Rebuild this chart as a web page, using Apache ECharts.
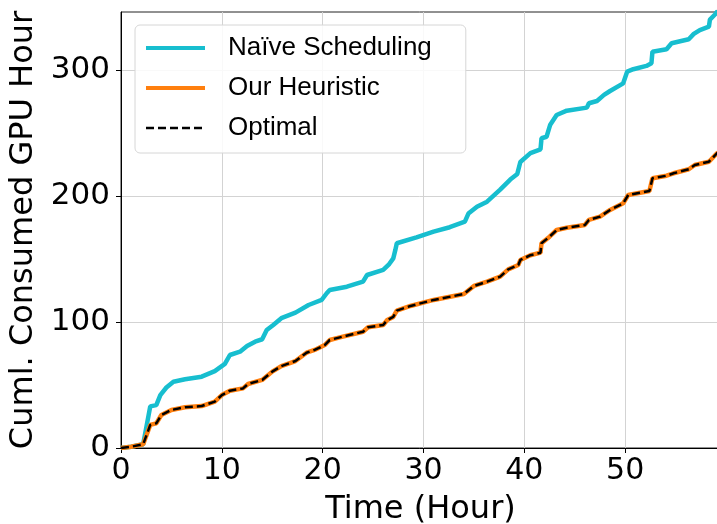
<!DOCTYPE html>
<html>
<head>
<meta charset="utf-8">
<script src="https://cdn.jsdelivr.net/npm/echarts@6/dist/echarts.min.js"></script>
<style>
  html, body { margin: 0; padding: 0; background: #fff; }
  #chart { width: 717px; height: 524px; }
</style>
</head>
<body>
<div id="chart"></div>
<script>
// 数据都是从图上读出来的（近似值）
var seriesNames = ['Naïve Scheduling', 'Our Heuristic', 'Optimal'];

var naiveHours = [0, 1, 2.2, 2.9, 3.5, 3.9, 4.5, 5.2, 6.35, 8.0, 9.3, 10.3, 10.8, 11.8, 12.5, 13.3, 14.0, 14.45,
  15.1, 15.9, 17.3, 18.6, 19.9, 20.4, 20.7, 22.4, 24.0, 24.4, 26.0, 26.6, 27.0, 27.2, 27.35, 29.3, 31.0, 32.6,
  34.1, 34.45, 35.3, 36.3, 37.6, 38.6, 39.3, 39.6, 40.6, 41.6, 41.7, 42.2, 42.55, 43.2, 44.2, 46.2, 46.4, 47.2,
  47.9, 48.5, 49.8, 50.2, 50.8, 52.1, 52.6, 52.7, 54.1, 54.6, 56.3, 56.8, 57.4, 58.3, 58.4, 58.9, 59.2];
var naiveGpu = [0, 1, 3, 33, 34, 42, 48, 52.6, 54.5, 56.6, 61, 66.7, 73.8, 76.4, 81, 84.4, 86.3, 93.6,
  97.6, 103, 107.4, 113.5, 117.5, 122.8, 125.4, 128, 132, 137.3, 141.3, 146, 150.5, 157, 162.5, 167.2, 171.7, 175.2,
  179.6, 186, 191.5, 195.5, 205, 213, 217.5, 227, 234, 237, 245.8, 247, 256.3, 264.3, 267.7, 270.1, 273.6, 275.4,
  280.2, 283.3, 289.4, 298.7, 300.6, 303.2, 305.3, 314.5, 316.4, 321.2, 324.4, 328.6, 331.7, 334.4, 340, 344, 347];

// Our Heuristic 和 Optimal 在图上完全重合
var optHours = [0, 1, 2.2, 2.9, 3.5, 4.0, 5.0, 6.35, 8.0, 9.3, 10.0, 10.8, 12.1, 12.6, 14.0, 15.0, 15.9, 17.3,
  18.4, 19.2, 20.2, 20.7, 21.7, 24.0, 24.5, 26.0, 26.4, 27.0, 27.35, 28.7, 31.0, 34.0, 35.0, 36.3, 37.6, 38.4,
  39.4, 39.6, 40.6, 41.6, 41.7, 42.5, 43.2, 44.2, 46.0, 46.4, 47.5, 48.5, 49.8, 50.3, 52.4, 52.7, 54.1, 54.8,
  56.3, 56.9, 58.3, 59.1, 59.4];
var optGpu = [0, 1, 3, 18.3, 19.6, 26.2, 30.2, 32.3, 33.3, 36.8, 42, 45.5, 47.3, 50.8, 54, 60.6, 65, 69,
  75.6, 77.8, 81.7, 85.7, 87.8, 92.3, 95.8, 97.6, 101.6, 104, 109, 112.7, 117.5, 122.2, 128.6, 132, 136, 141.8,
  145.2, 149.2, 153, 155, 162.5, 167.7, 173, 174.8, 177, 181, 183.6, 188.9, 194.2, 200.8, 204, 214, 216.1, 218,
  221.2, 224.6, 227.2, 233.9, 235];

var xTicks = [0, 10, 20, 30, 40, 50];
var yTicks = [0, 100, 200, 300];

function pairs(xs, ys) {
  return xs.map(function (x, i) { return [x, ys[i]]; });
}

var chart = echarts.init(document.getElementById('chart'));

var option = {
  animation: false,
  grid: {
    left: 121, top: 12, right: -3, bottom: 76,
    outerBoundsMode: 'none',
    show: true, borderColor: '#222', borderWidth: 1
  },
  legend: {
    orient: 'vertical',
    left: 135, top: 25,
    padding: [10, 34, 12, 9],
    itemWidth: 59, itemHeight: 14, itemGap: 14,
    backgroundColor: 'rgba(255,255,255,0.85)',
    borderColor: '#d6d6d6', borderWidth: 1, borderRadius: 5,
    itemStyle: { opacity: 0 },  // 只要线，不要圆点
    textStyle: {
      fontFamily: 'Liberation Sans', fontSize: 26, color: '#000',
      lineHeight: 26, padding: [0, 0, 0, 18]
    },
    data: [
      { name: seriesNames[0], lineStyle: { width: 4 } },
      { name: seriesNames[1], lineStyle: { width: 4 } },
      { name: seriesNames[2], lineStyle: { width: 2.5 } }
    ]
  },
  xAxis: {
    type: 'value',
    min: 0, max: 59.4, interval: 10,
    name: 'Time (Hour)', nameLocation: 'middle', nameGap: 46,
    nameTextStyle: { fontFamily: 'DejaVu Sans', fontSize: 32, color: '#000' },
    axisLine: { lineStyle: { color: '#000', width: 1 } },
    axisTick: { show: true, length: 5, lineStyle: { color: '#000' } },
    axisLabel: {
      fontFamily: 'DejaVu Sans', fontSize: 30, color: '#000', margin: 8,
      showMaxLabel: false,
      formatter: function (v) { return xTicks.indexOf(v) >= 0 ? String(v) : ''; }
    },
    splitLine: { show: true, showMinLine: false, showMaxLine: false, lineStyle: { color: '#d3d3d3', width: 1 } }
  },
  yAxis: {
    type: 'value',
    min: 0, max: 346, interval: 100,
    name: 'Cuml. Consumed GPU Hour', nameLocation: 'middle', nameGap: 79, nameRotate: 90,
    nameTextStyle: { fontFamily: 'DejaVu Sans', fontSize: 32, color: '#000' },
    axisLine: { show: true, lineStyle: { color: '#000', width: 1 } },
    axisTick: { show: true, length: 5, lineStyle: { color: '#000' } },
    axisLabel: {
      fontFamily: 'DejaVu Sans', fontSize: 31, color: '#000', margin: 11,
      showMaxLabel: false,
      formatter: function (v) { return yTicks.indexOf(v) >= 0 ? String(v) : ''; }
    },
    splitLine: { show: true, showMinLine: false, showMaxLine: false, lineStyle: { color: '#d3d3d3', width: 1 } }
  },
  series: [
    {
      name: seriesNames[0], type: 'line', symbol: 'none', clip: true,
      data: pairs(naiveHours, naiveGpu),
      lineStyle: { color: '#17becf', width: 4.5 },
      itemStyle: { color: '#17becf' }
    },
    {
      name: seriesNames[1], type: 'line', symbol: 'none', clip: true,
      data: pairs(optHours, optGpu),
      lineStyle: { color: '#ff7f0e', width: 4.5 },
      itemStyle: { color: '#ff7f0e' }
    },
    {
      name: seriesNames[2], type: 'line', symbol: 'none', clip: true,
      data: pairs(optHours, optGpu),
      lineStyle: { color: '#000', width: 2.5, type: [8, 4] },
      itemStyle: { color: '#000' }
    }
  ]
};

chart.setOption(option);
</script>
</body>
</html>
